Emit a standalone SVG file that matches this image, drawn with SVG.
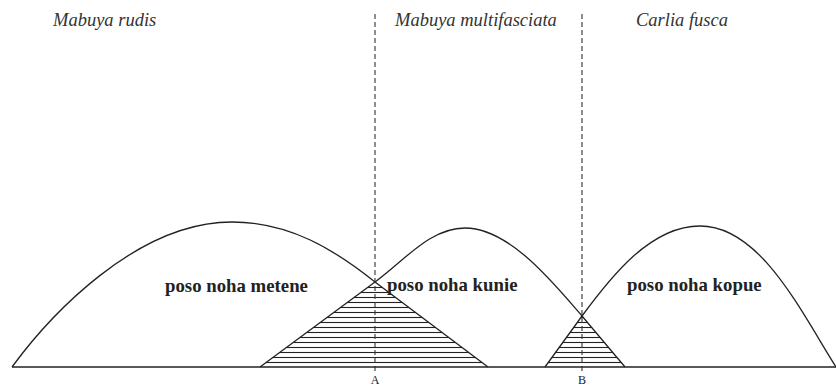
<svg xmlns="http://www.w3.org/2000/svg" width="836" height="386" viewBox="0 0 836 386">
<style>
.curve{fill:none;stroke:#222;stroke-width:1.3}
.axis{fill:none;stroke:#222;stroke-width:1.5}
.dash{fill:none;stroke:#333;stroke-width:1.1;stroke-dasharray:5 3}
.sp{font-family:"Liberation Serif","DejaVu Serif",serif;font-style:italic;font-size:18.5px;fill:#333}
.lb{font-family:"Liberation Serif",serif;font-weight:bold;font-size:18.8px;fill:#222}
.pt{font-family:"Liberation Serif",serif;font-size:12px;fill:#222;text-anchor:middle}
.hatch{stroke:#222;stroke-width:1.1}
</style>
<defs>
<pattern id="h" patternUnits="userSpaceOnUse" width="20" height="5">
<line x1="0" y1="2.5" x2="20" y2="2.5" class="hatch"/>
</pattern>
</defs>
<rect width="836" height="386" fill="#fff"/>
<g id="species-labels">
<text class="sp" x="53" y="26">Mabuya rudis</text>
<text class="sp" x="395" y="26">Mabuya multifasciata</text>
<text class="sp" x="636" y="26">Carlia fusca</text>
</g>
<g id="overlaps">
<polygon id="overlap-A" points="375,282 260,367 488,367" fill="url(#h)" stroke="none"/>
<polygon id="overlap-B" points="582,316 545,367 625,367" fill="url(#h)" stroke="none"/>
</g>
<g id="curves">
<path id="metene" class="curve" d="M12,367 C48,318 135,222 232,222 C290,222 335,250 375,282 L488,367"/>
<path id="kunie" class="curve" d="M260,367 L375,282 C405,260 430,228 465,228 C510,228 555,285 582,316 L625,367"/>
<path id="kopue" class="curve" d="M545,367 L582,316 C610,278 650,226 700,226 C760,226 800,310 836,367"/>
</g>
<g id="boundaries">
<line class="dash" x1="375" y1="14" x2="375" y2="374"/>
<line class="dash" x1="582" y1="14" x2="582" y2="374"/>
<text class="pt" x="375" y="384">A</text>
<text class="pt" x="582" y="384">B</text>
</g>
<line id="axis" class="axis" x1="12" y1="367" x2="836" y2="367"/>
<g id="zone-labels">
<text class="lb" x="165" y="292">poso noha metene</text>
<text class="lb" x="387" y="291">poso noha kunie</text>
<text class="lb" x="627" y="291">poso noha kopue</text>
</g>
</svg>
